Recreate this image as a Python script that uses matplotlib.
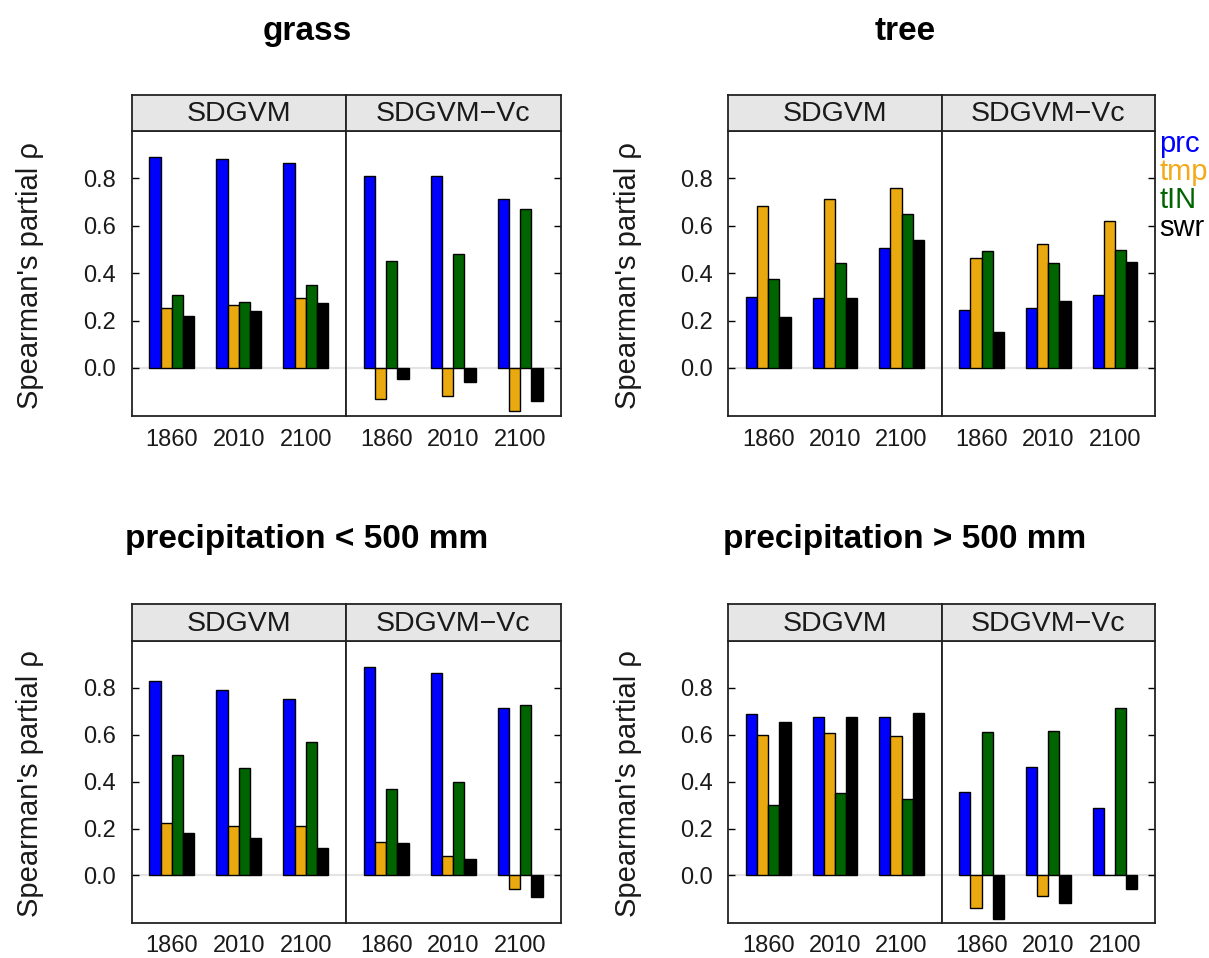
import matplotlib
matplotlib.use("Agg")
import matplotlib.pyplot as plt

plt.rcParams["font.family"] = ["Liberation Sans", "DejaVu Sans"]

years = ["1860", "2010", "2100"]
models = ["SDGVM", "SDGVM\u2212Vc"]
drivers = ["prc", "tmp", "tIN", "swr"]
driver_colors = ["#0000FF", "#EAA90F", "#006400", "#000000"]
legend_colors = ["#0000FF", "#F2A91A", "#006400", "#000000"]

# partial correlations, rows = years, columns = drivers (prc, tmp, tIN, swr)
grass_sdgvm = [[0.890, 0.251, 0.306, 0.218],
               [0.883, 0.265, 0.280, 0.239],
               [0.863, 0.293, 0.348, 0.275]]
grass_vc = [[0.808, -0.132, 0.451, -0.045],
            [0.808, -0.117, 0.479, -0.059],
            [0.713, -0.180, 0.672, -0.141]]
tree_sdgvm = [[0.300, 0.683, 0.376, 0.213],
              [0.293, 0.711, 0.444, 0.294],
              [0.506, 0.759, 0.649, 0.541]]
tree_vc = [[0.245, 0.463, 0.492, 0.151],
           [0.252, 0.525, 0.444, 0.282],
           [0.307, 0.621, 0.499, 0.445]]
dry_sdgvm = [[0.828, 0.225, 0.514, 0.179],
             [0.793, 0.210, 0.458, 0.159],
             [0.754, 0.210, 0.569, 0.118]]
dry_vc = [[0.890, 0.142, 0.369, 0.138],
          [0.865, 0.082, 0.397, 0.069],
          [0.713, -0.056, 0.725, -0.092]]
wet_sdgvm = [[0.689, 0.599, 0.300, 0.655],
             [0.675, 0.606, 0.352, 0.675],
             [0.675, 0.593, 0.325, 0.694]]
wet_vc = [[0.354, -0.139, 0.613, -0.187],
          [0.461, -0.089, 0.618, -0.118],
          [0.287, 0.000, 0.713, -0.056]]

panel_titles = ["grass", "tree", "precipitation < 500 mm", "precipitation > 500 mm"]
panel_data = [(grass_sdgvm, grass_vc), (tree_sdgvm, tree_vc),
              (dry_sdgvm, dry_vc), (wet_sdgvm, wet_vc)]

W, H = 1209, 958
fig = plt.figure(figsize=(W / 100, H / 100), dpi=100)


def box(x0, y0, x1, y1):
    """pixel box (top-left origin) -> figure rect"""
    return [x0 / W, 1 - y1 / H, (x1 - x0) / W, (y1 - y0) / H]


TXT = "#1a1a1a"
YLIM = (-0.203, 1.0)
group_w = 2 / 3
bar_w = group_w / len(drivers)

# pixel layout for each block: left, divider, right, strip top, strip bottom, body bottom, half offset
blocks = [
    dict(x0=131.5, xm=346.0, x1=560.5, st=95, sb=131, bb=416, cx=307, ty=40, lx=30),
    dict(x0=728.3, xm=941.6, x1=1155.0, st=95, sb=131, bb=416, cx=905, ty=40, lx=628),
    dict(x0=131.5, xm=346.0, x1=560.5, st=604, sb=641, bb=923, cx=307, ty=548, lx=30),
    dict(x0=728.3, xm=941.6, x1=1155.0, st=604, sb=641, bb=923, cx=905, ty=548, lx=628),
]

for b, title, data in zip(blocks, panel_titles, panel_data):
    edges = [(b["x0"], b["xm"]), (b["xm"], b["x1"])]
    for k, ((xa, xb), model, vals) in enumerate(zip(edges, models, data)):
        ax = fig.add_axes(box(xa, b["sb"], xb, b["bb"]))
        ax.axhline(0, color="#E4E4E4", lw=1.6, zorder=0)
        for j, (drv, col) in enumerate(zip(drivers, driver_colors)):
            xs = [i + 1 - group_w / 2 + (j + 0.5) * bar_w for i in range(len(years))]
            hs = [row[j] for row in vals]
            ax.bar(xs, hs, width=bar_w, color=col, edgecolor="black",
                   linewidth=1.0, zorder=2)
        ax.set_xlim(0.4, 3.6)
        ax.set_ylim(*YLIM)
        ax.set_xticks([1, 2, 3])
        ax.set_xticklabels(years)
        ax.tick_params(axis="x", length=0, pad=9, labelsize=17, labelcolor=TXT)
        ax.set_yticks([0.0, 0.2, 0.4, 0.6, 0.8])
        if k == 0:
            ax.yaxis.set_ticks_position("left")
            ax.set_yticklabels(["0.0", "0.2", "0.4", "0.6", "0.8"])
            ax.tick_params(axis="y", direction="in", length=5, width=1.0,
                           pad=11, labelsize=17, labelcolor=TXT)
        else:
            ax.yaxis.set_ticks_position("right")
            ax.tick_params(axis="y", direction="in", length=5, width=1.0,
                           labelright=False, labelleft=False)
        for s in ax.spines.values():
            s.set_linewidth(1.3)
            s.set_color("#222222")

        sax = fig.add_axes(box(xa, b["st"], xb, b["sb"]))
        sax.set_facecolor("#E6E6E6")
        sax.set_xticks([])
        sax.set_yticks([])
        for s in sax.spines.values():
            s.set_linewidth(1.3)
            s.set_color("#222222")
        sax.text(0.5, 0.47, model, transform=sax.transAxes, ha="center",
                 va="center", fontsize=20.5, color=TXT)

    fig.text(b["cx"] / W, 1 - b["ty"] / H, title, ha="center", va="baseline",
             fontsize=24, fontweight="bold", color="black")
    fig.text(b["lx"] / W, 1 - ((b["sb"] + b["bb"]) / 2 + 2) / H,
             "Spearman's partial \u03c1", rotation=90, ha="center",
             va="center", fontsize=21, color=TXT)

# key to the right of the tree panel
for i, (drv, col) in enumerate(zip(drivers, legend_colors)):
    fig.text(1159 / W, 1 - (151.5 + 28.3 * i) / H, drv, ha="left",
             va="baseline", fontsize=21, color=col)

fig.savefig("out.png", dpi=100, facecolor="white")
